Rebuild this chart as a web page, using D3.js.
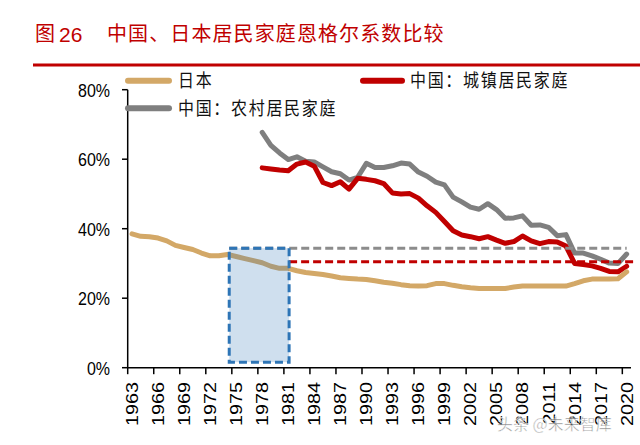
<!DOCTYPE html>
<html><head><meta charset="utf-8">
<script src="https://cdn.jsdelivr.net/npm/d3@7"></script>
<style>
html,body{margin:0;padding:0;background:#fff;}
svg{display:block;}
</style></head>
<body>
<svg id="chart" width="640" height="445"></svg>
<script>
// ---------- data ----------
const years = [1963,1964,1965,1966,1967,1968,1969,1970,1971,1972,1973,1974,1975,1976,1977,1978,1979,1980,1981,1982,1983,1984,1985,1986,1987,1988,1989,1990,1991,1992,1993,1994,1995,1996,1997,1998,1999,2000,2001,2002,2003,2004,2005,2006,2007,2008,2009,2010,2011,2012,2013,2014,2015,2016,2017,2018,2019,2020];
const japan = [38.5,37.8,37.7,37.3,36.5,35.2,34.6,34.0,33.0,32.2,32.2,32.6,32.0,31.4,30.8,30.2,29.2,28.6,28.6,27.9,27.4,27.1,26.8,26.4,25.9,25.7,25.5,25.4,25.0,24.6,24.3,23.9,23.6,23.5,23.6,24.2,24.2,23.7,23.3,23.0,22.8,22.8,22.8,22.8,23.2,23.5,23.5,23.5,23.5,23.5,23.5,24.2,25.0,25.5,25.5,25.5,25.6,27.6];
const chinaYears = [1978,1979,1980,1981,1982,1983,1984,1985,1986,1987,1988,1989,1990,1991,1992,1993,1994,1995,1996,1997,1998,1999,2000,2001,2002,2003,2004,2005,2006,2007,2008,2009,2010,2011,2012,2013,2014,2015,2016,2017,2018,2019,2020];
const urban = [57.5,57.2,56.9,56.7,58.6,59.2,58.0,53.3,52.4,53.5,51.4,54.5,54.2,53.8,53.0,50.3,50.0,50.1,48.8,46.6,44.7,42.1,39.4,38.2,37.7,37.1,37.7,36.7,35.8,36.3,37.9,36.5,35.7,36.3,36.2,35.0,30.0,29.7,29.3,28.6,27.7,27.6,29.2];
const rural = [67.7,64.0,61.8,59.9,60.7,59.4,59.2,57.8,56.4,55.8,54.0,54.8,58.8,57.6,57.6,58.1,58.9,58.6,56.3,55.1,53.4,52.6,49.1,47.7,46.2,45.6,47.2,45.5,43.0,43.1,43.7,41.0,41.1,40.4,38.0,38.3,33.0,33.0,32.2,31.2,30.1,30.0,32.7];
const yTicks = [0,20,40,60,80];
const xTickLabels = [1963,1966,1969,1972,1975,1978,1981,1984,1987,1990,1993,1996,1999,2002,2005,2008,2011,2014,2017,2020];
const title = "中国、日本居民家庭恩格尔系数比较";
const seriesNames = ["日本","中国：城镇居民家庭","中国：农村居民家庭"];
// annotation (in data units)
const boxYears = [1974.2, 1981.1];
const boxValues = [1.6, 34.4];
const ruralRef = 34.4, urbanRef = 30.5;

// ---------- scales ----------
const svg = d3.select("#chart");
const x = d3.scaleLinear().domain([1962.5, 2020.5]).range([127.7, 631]);
const y = d3.scaleLinear().domain([0, 80]).range([367.7, 89.7]);
const RED = "#C00000", GRAY = "#7F7F7F", TAN = "#D3A867", BLUE = "#2E75B6";
const SANS = "'Liberation Sans', Arial, sans-serif";
const CJK = "'Noto Sans CJK SC', sans-serif";

// ---------- title ----------
svg.append("text").attr("x",35).attr("y",41).attr("fill",RED)
  .style("font-family",CJK).style("font-size","20px").text("图");
svg.append("text").attr("x",59).attr("y",42).attr("fill",RED)
  .style("font-family",SANS).style("font-size","21px").text("26");
svg.append("text").attr("x",107).attr("y",41).attr("fill",RED)
  .style("font-family",CJK).style("font-size","20px").style("letter-spacing","1.1px").text(title);
svg.append("line").attr("x1",33).attr("x2",640).attr("y1",65).attr("y2",65)
  .attr("stroke",RED).attr("stroke-width",3);

// ---------- lines ----------
const line = d3.line().x(d=>x(d[0])).y(d=>y(d[1])).curve(d3.curveLinear);
function drawSeries(xs, vs, color){
  svg.append("path").datum(xs.map((yr,i)=>[yr,vs[i]]))
    .attr("d",line).attr("fill","none").attr("stroke",color)
    .attr("stroke-width",5).attr("stroke-linejoin","round").attr("stroke-linecap","round");
}
drawSeries(chinaYears, rural, GRAY);
drawSeries(chinaYears, urban, RED);
drawSeries(years, japan, TAN);

// reference dashed lines
svg.append("line").attr("x1",x(boxYears[0])).attr("x2",x(2020))
  .attr("y1",y(ruralRef)).attr("y2",y(ruralRef))
  .attr("stroke","#8C8C8C").attr("stroke-width",3).attr("stroke-dasharray","8,4");
svg.append("line").attr("x1",x(boxYears[1])).attr("x2",x(2021.2))
  .attr("y1",y(urbanRef)).attr("y2",y(urbanRef))
  .attr("stroke",RED).attr("stroke-width",3).attr("stroke-dasharray","8,4");

// highlight box
svg.append("rect")
  .attr("x",x(boxYears[0])).attr("y",y(boxValues[1]))
  .attr("width",x(boxYears[1])-x(boxYears[0])).attr("height",y(boxValues[0])-y(boxValues[1]))
  .attr("fill",BLUE).attr("fill-opacity",0.23);
svg.append("rect")
  .attr("x",x(boxYears[0])).attr("y",y(boxValues[1]))
  .attr("width",x(boxYears[1])-x(boxYears[0])).attr("height",y(boxValues[0])-y(boxValues[1]))
  .attr("fill","none").attr("stroke",BLUE).attr("stroke-width",3).attr("stroke-dasharray","8,4");

// ---------- axes ----------
// y axis
svg.append("line").attr("x1",127.7).attr("x2",127.7).attr("y1",y(80)).attr("y2",y(0))
  .attr("stroke","#000").attr("stroke-width",1.5);
yTicks.forEach(t=>{
  svg.append("line").attr("x1",122).attr("x2",127.7).attr("y1",y(t)).attr("y2",y(t))
    .attr("stroke","#000").attr("stroke-width",1.5);
  svg.append("text").attr("transform",`translate(110,${y(t)}) scale(1,1.2)`)
    .attr("dy","0.36em").attr("text-anchor","end")
    .style("font-family",SANS).style("font-size","16px").attr("fill","#000").text(t+"%");
});
// x axis
svg.append("line").attr("x1",x.range()[0]).attr("x2",x.range()[1]).attr("y1",y(0)).attr("y2",y(0))
  .attr("stroke","#000").attr("stroke-width",1.5);
xTickLabels.forEach(yr=>{
  const bx = x(yr-0.5);
  svg.append("line").attr("x1",bx).attr("x2",bx).attr("y1",y(0)).attr("y2",y(0)+6.5)
    .attr("stroke","#000").attr("stroke-width",1.5);
  svg.append("text").attr("transform",`translate(${x(yr)},382) scale(1,1.2) rotate(-90)`)
    .attr("dy","0.36em").attr("text-anchor","end")
    .style("font-family",SANS).style("font-size","16.5px").attr("fill","#000").text(yr);
});

// ---------- legend ----------
const legend = [
  {name:seriesNames[0], color:TAN, x1:128, x2:169, y:80.7, tx:178},
  {name:seriesNames[2], color:GRAY, x1:128, x2:169, y:108.3, tx:178},
  {name:seriesNames[1], color:RED, x1:363, x2:402, y:80.7, tx:410}
];
legend.forEach(l=>{
  svg.append("line").attr("x1",l.x1).attr("x2",l.x2).attr("y1",l.y).attr("y2",l.y)
    .attr("stroke",l.color).attr("stroke-width",6).attr("stroke-linecap","round");
  svg.append("text").attr("transform",`translate(${l.tx},${l.y}) scale(1,1.12)`)
    .attr("dy","0.36em").style("font-family",CJK).style("font-size","16px")
    .style("letter-spacing","1.7px").attr("fill","#111").text(l.name);
});

// watermark
svg.append("text").attr("x",497).attr("y",430)
  .style("font-family",CJK).style("font-size","16px").attr("fill","#555").attr("fill-opacity",0.7)
  .attr("stroke","#fff").attr("stroke-width",0.5).text("头条 @未来智库");
</script>
</body></html>
